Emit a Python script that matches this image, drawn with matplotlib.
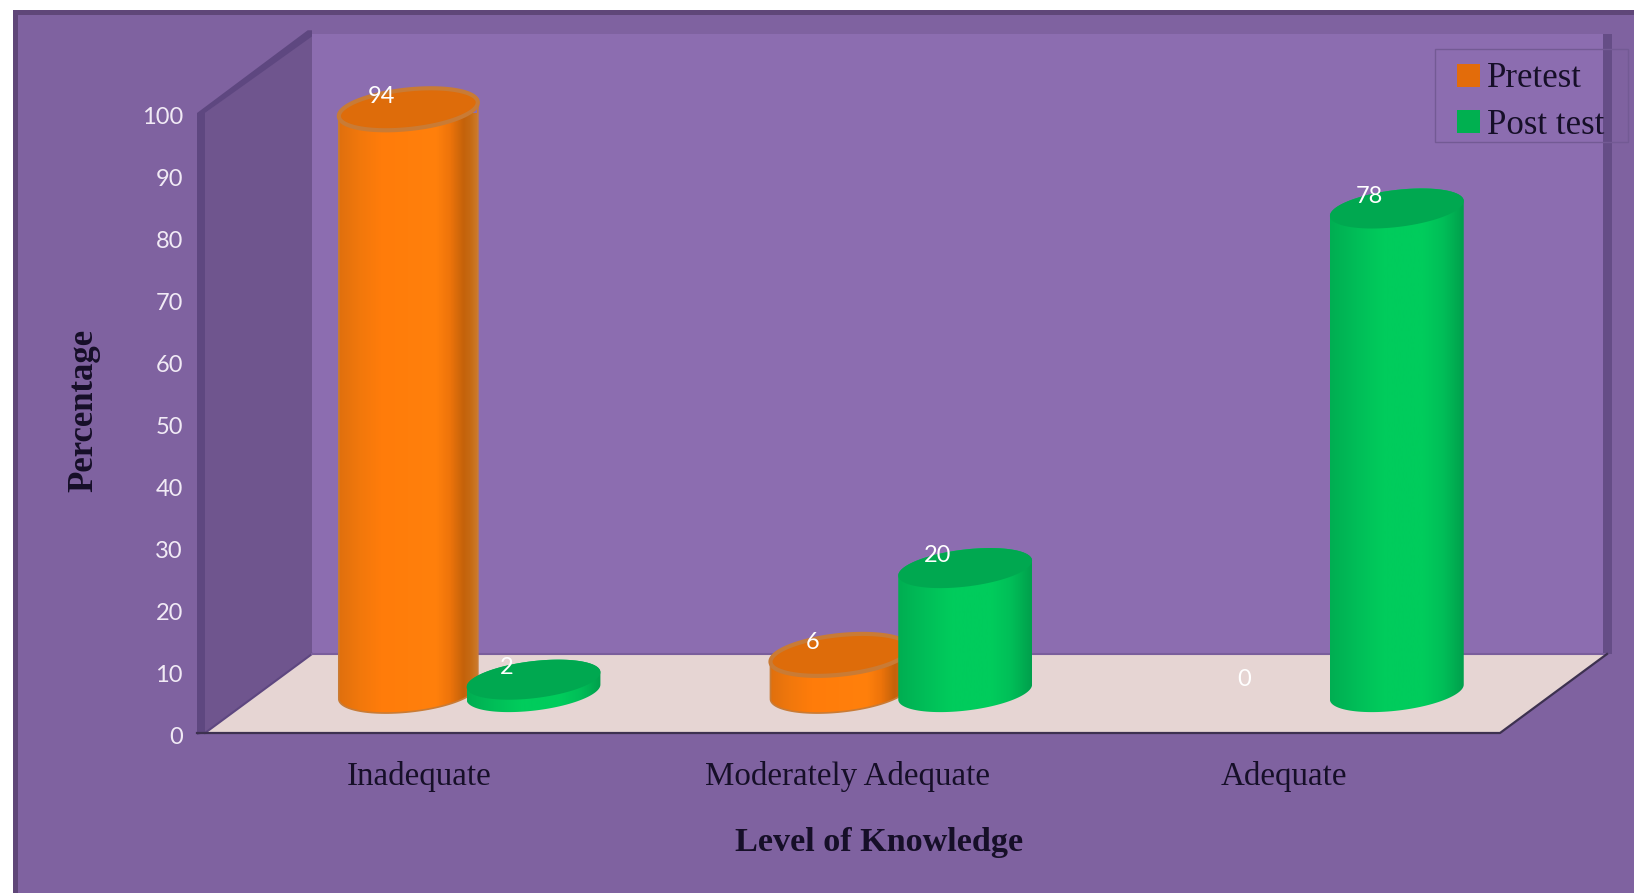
import numpy as np
import matplotlib
matplotlib.use('Agg')
import matplotlib.pyplot as plt
from matplotlib.colors import LinearSegmentedColormap
from matplotlib.patches import Polygon, PathPatch, Patch, Rectangle
from matplotlib.path import Path
from matplotlib.transforms import ScaledTranslation

categories = ['Inadequate', 'Moderately Adequate', 'Adequate']
pretest = [94, 6, 0]
posttest = [2, 20, 78]
yticks = [0, 10, 20, 30, 40, 50, 60, 70, 80, 90, 100]

W, H = 1634, 893
# front plane of the box, in pixels
LEFT, RIGHT, BOTTOM, TOP = 205, 1500, 733, 113
# box depth in data units
DX = 107 / ((RIGHT - LEFT) / 3)
DY = 79 / ((BOTTOM - TOP) / 100)

OUTER = '#7F62A0'
BACK = '#8C6DB0'
SIDE = '#6F558E'
EDGE = '#5E4780'
FLOOR = '#E6D5D3'
LABEL = '#F1EAF5'
DARK = '#160F28'

orange_cm = LinearSegmentedColormap.from_list('o', [(0, '#E0700E'), (0.15, '#F2780C'), (0.3, '#FF7C0A'),
                                                    (0.7, '#FF800C'), (0.8, '#EE740A'), (0.9, '#C4620A'),
                                                    (0.95, '#C66A14'), (1, '#CC7A2A')])
green_cm = LinearSegmentedColormap.from_list('g', [(0, '#00AE52'), (0.2, '#00BE58'), (0.4, '#00CC5C'),
                                                   (0.7, '#00CC5C'), (0.85, '#00BE58'), (1, '#00A04C')])

fig = plt.figure(figsize=(W / 100, H / 100), dpi=100, facecolor='white')

def px_rect(x0, y0, x1, y1, color):
    fig.add_artist(Rectangle((x0 / W, 1 - y1 / H), (x1 - x0) / W, (y1 - y0) / H,
                             transform=fig.transFigure, facecolor=color, edgecolor='none', zorder=-5))

px_rect(13, 10, W, H, '#5F4678')
px_rect(18, 15, W, H, OUTER)

ax = fig.add_axes([LEFT / W, 1 - BOTTOM / H, (RIGHT - LEFT) / W, (BOTTOM - TOP) / H])
ax.patch.set_visible(False)
for s in ax.spines.values():
    s.set_visible(False)

def poly(pts, color, z):
    ax.add_patch(Polygon(pts, closed=True, facecolor=color, edgecolor='none', zorder=z, clip_on=False))

x0, x1 = -0.5, 2.5
strip = 8 / ((RIGHT - LEFT) / 3)
# back wall, right wall band, side wall and floor
poly([(x0 + DX, DY), (x1 + DX, DY), (x1 + DX, 100 + DY), (x0 + DX, 100 + DY)], BACK, 1)
poly([(x1 + DX - 0.009, DY), (x1 + DX + 0.012, DY), (x1 + DX + 0.012, 100 + DY), (x1 + DX - 0.009, 100 + DY)], '#654D86', 1.5)
poly([(x0, 0), (x0 + DX, DY), (x0 + DX, 100 + DY), (x0, 100)], SIDE, 2)
poly([(x0 - strip, -0.3), (x0, 0), (x0, 100), (x0 - strip, 100)], EDGE, 2.1)
poly([(x0 - strip, 100), (x0, 100), (x0 + DX, 99.6 + DY), (x0 + DX, 100.6 + DY), (x0 + DX - 0.01, 100.6 + DY)], EDGE, 2.1)
poly([(x0, 0), (x1, 0), (x1 + DX, DY), (x0 + DX, DY)], FLOOR, 3)
ax.plot([x0 - strip, x1, x1 + DX], [0, 0, DY], color='#3D3150', lw=1.6, zorder=3.2, clip_on=False)
ax.plot([x0, x0 + DX], [0, DY], color=EDGE, lw=1.5, zorder=3.1, clip_on=False)
ax.plot([x0 + DX, x1 + DX], [DY, DY], color='#7A5E9C', lw=1.5, zorder=3.1, clip_on=False)

def ellipse_pts(cx, cy, a, h, k, t):
    return np.column_stack([cx + a * np.cos(t), cy + h * np.sin(t) + k * np.cos(t)])

def cylinder(cx, base, value, a, h, k, cmap, top_color, rim, z):
    lower = ellipse_pts(cx, base, a, h, k, np.linspace(np.pi, 2 * np.pi, 60))
    upper = ellipse_pts(cx, base + value, a, h, k, np.linspace(0, np.pi, 60))
    verts = np.vstack([lower, upper, lower[:1]])
    body = PathPatch(Path(verts), facecolor='none', edgecolor=rim, lw=1.2, zorder=z + 0.1, clip_on=False)
    ax.add_patch(body)
    im = ax.imshow(np.linspace(0, 1, 200).reshape(1, -1), cmap=cmap, aspect='auto',
                   extent=[cx - a, cx + a, -5, 105], zorder=z, interpolation='bilinear')
    im.set_clip_path(body)
    face = ellipse_pts(cx, base + value, a, h, k, np.linspace(0, 2 * np.pi, 120))
    ax.add_patch(Polygon(face, closed=True, facecolor=top_color, edgecolor=rim,
                         lw=3 if rim != 'none' else 0, zorder=z + 0.2, clip_on=False))

BASE_X, BASE_Y = 0.116, 6.6
for i in range(len(categories)):
    cx = i + BASE_X
    if pretest[i] > 0:
        cylinder(cx - 0.145, BASE_Y, pretest[i], 0.161, 3.2, 1.1, orange_cm, '#DE6C0A', '#C97B35', 5 + i)
    cylinder(cx + 0.145, BASE_Y, posttest[i], 0.155, 3.0, 1.2, green_cm, '#00A850', 'none', 5.5 + i)
    ax.text(cx - 0.145 - 0.063, BASE_Y + pretest[i] + 2, str(pretest[i]), color='white', fontsize=17, family='Lato',
            ha='center', va='center', zorder=20)
    ax.text(cx + 0.145 - 0.063, BASE_Y + posttest[i] + 2, str(posttest[i]), color='white', fontsize=17, family='Lato',
            ha='center', va='center', zorder=20)

ax.set_xlim(x0, x1)
ax.set_ylim(0, 100)
ax.set_yticks(yticks)
ax.set_yticklabels([str(v) for v in yticks], color=LABEL, fontsize=17, family='Lato')
ax.set_xticks([-0.005, 0.988, 2])
ax.set_xticklabels(categories, color=DARK, fontsize=23.8, family='Liberation Serif')
ax.tick_params(axis='both', length=0)
ax.tick_params(axis='y', pad=16)
ax.tick_params(axis='x', pad=20)
shift = ScaledTranslation(0, -2 / 100, fig.dpi_scale_trans)
for t in ax.get_yticklabels():
    t.set_transform(t.get_transform() + shift)

fig.text(879 / W, 1 - 842 / H, 'Level of Knowledge', color=DARK, fontsize=24.6, fontweight='bold',
         family='Liberation Serif', ha='center', va='center')
fig.text(84 / W, 1 - 410 / H, 'Percentage', color=DARK, fontsize=25, fontweight='bold',
         family='Liberation Serif', ha='center', va='center', rotation=90)

handles = [Patch(facecolor='#E36C0A', label='Pretest'), Patch(facecolor='#00B050', label='Post test')]
leg = ax.legend(handles=handles, loc='upper left', bbox_to_anchor=(1440 / W, 1 - 45 / H),
                bbox_transform=fig.transFigure, frameon=False, labelcolor=DARK,
                prop={'family': 'Liberation Serif', 'size': 25},
                handlelength=0.65, handleheight=0.65, handletextpad=0.2,
                borderaxespad=0, borderpad=0.5, labelspacing=0.38)
leg.set_zorder(30)
fig.add_artist(Rectangle((1435 / W, 1 - 142 / H), 193 / W, 93 / H, transform=fig.transFigure,
                         facecolor='none', edgecolor='#735A94', lw=1, zorder=10))

fig.savefig('out.png', dpi=100, facecolor='white')
